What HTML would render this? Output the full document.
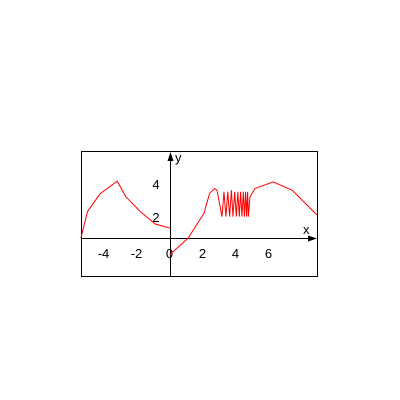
<!DOCTYPE html>
<html><head><meta charset="utf-8"><style>
html,body{margin:0;padding:0;background:#fff;width:400px;height:400px;overflow:hidden}
svg{display:block}
text{font-family:"Liberation Sans",sans-serif;font-size:13px;fill:#000}
</style></head><body>
<svg id="c" width="400" height="400">
<rect x="81.5" y="151.5" width="236" height="125" fill="#fff" stroke="#000"/>
</svg>
<script>
const leftX=[-5.4,-5.0,-4.24,-3.2,-2.67,-1.8,-0.9,0];
const leftY=[0,1.6,2.67,3.45,2.5,1.6,0.85,0.6];
const rightX=[0,1.1,2.06,2.4,2.7,2.85,3.15,3.27,3.39,3.5,3.61,3.72,3.82,3.92,4.02,4.11,4.2,4.28,4.36,4.44,4.51,4.58,4.64,4.7,4.75,4.85,5.15,6.25,7.4,8.9];
const rightY=[-1.0,0,1.5,2.7,3.0,2.9,1.3,2.8,1.3,2.8,1.3,2.9,1.3,2.8,1.3,2.8,1.3,2.8,1.3,2.8,1.3,2.8,1.3,2.8,1.3,2.5,3.0,3.4,2.9,1.4];
const xTicks=[-4,-2,0,2,4,6];
const yTicks=[2,4];
const svg=document.getElementById('c');
const NS='http://www.w3.org/2000/svg';
const sx=v=>170+v*16.5, sy=v=>238-v*16.5;
function mk(t,a){const e=document.createElementNS(NS,t);for(const k in a)e.setAttribute(k,a[k]);svg.appendChild(e);return e;}
let e=mk('line',{x1:81,y1:238.5,x2:312,y2:238.5,stroke:'#000'});


e=mk('polygon',{points:'317,238.5 308,235.5 308,241.5',fill:'#000'});


e=mk('line',{x1:170.5,y1:276,x2:170.5,y2:158,stroke:'#000'});


e=mk('polygon',{points:'170.5,152 167.5,161 173.5,161',fill:'#000'});


e=mk('text',{x:175,y:162});e.textContent='y';


e=mk('text',{x:303,y:234});e.textContent='x';


xTicks.forEach(v=>{const t=mk('text',{x:sx(v)-0.5,y:258,'text-anchor':'middle'});t.textContent=v;

});
yTicks.forEach(v=>{const t=mk('text',{x:156,y:sy(v)+17,'text-anchor':'middle'});t.textContent=v;

});
function path(X,Y){return X.map((x,i)=>(i?'L':'M')+sx(x).toFixed(1)+','+sy(Y[i]).toFixed(1)).join('');}
e=mk('path',{d:path(leftX,leftY),fill:'none',stroke:'#f00','stroke-width':1});


e=mk('path',{d:path(rightX,rightY),fill:'none',stroke:'#f00','stroke-width':1});


</script>
</body></html>
